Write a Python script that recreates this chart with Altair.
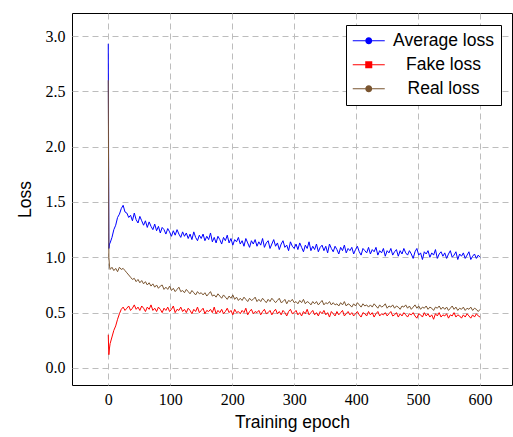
import altair as alt
import pandas as pd

series_names = ["Average loss", "Fake loss", "Real loss"]
series_colors = ["#0000ff", "#ff0000", "#7a5530"]

epochs = [0, 1, 2] + list(range(3, 601, 3))

avg_loss = [2.93, 1.08, 1.12,
    1.13, 1.18, 1.25, 1.29, 1.36, 1.39, 1.44, 1.47, 1.41, 1.40,
    1.36, 1.38, 1.33, 1.40, 1.34, 1.31, 1.37, 1.33, 1.29, 1.33,
    1.27, 1.32, 1.28, 1.25, 1.30, 1.24, 1.28, 1.22, 1.27, 1.25,
    1.21, 1.26, 1.23, 1.19, 1.24, 1.20, 1.25, 1.21, 1.18, 1.23,
    1.19, 1.22, 1.17, 1.21, 1.16, 1.23, 1.18, 1.15, 1.20, 1.17,
    1.21, 1.15, 1.19, 1.16, 1.22, 1.14, 1.18, 1.13, 1.19, 1.16,
    1.12, 1.18, 1.15, 1.20, 1.13, 1.17, 1.11, 1.16, 1.14, 1.18,
    1.12, 1.15, 1.10, 1.17, 1.13, 1.09, 1.15, 1.12, 1.16, 1.10,
    1.14, 1.11, 1.17, 1.09, 1.13, 1.15, 1.08, 1.12, 1.16, 1.10,
    1.13, 1.07, 1.12, 1.15, 1.09, 1.11, 1.06, 1.14, 1.10, 1.08,
    1.12, 1.07, 1.13, 1.09, 1.05, 1.11, 1.08, 1.14, 1.06, 1.10,
    1.07, 1.12, 1.05, 1.09, 1.11, 1.06, 1.10, 1.04, 1.12, 1.08,
    1.05, 1.10, 1.07, 1.03, 1.09, 1.06, 1.11, 1.04, 1.08, 1.06,
    1.09, 1.03, 1.07, 1.10, 1.05, 1.02, 1.08, 1.06, 1.04, 1.09,
    1.03, 1.07, 1.05, 1.09, 1.02, 1.06, 1.04, 1.08, 1.01, 1.06,
    1.04, 1.08, 1.02, 1.05, 1.07, 1.01, 1.06, 1.03, 1.08, 1.04,
    1.02, 1.06, 1.03, 0.99, 1.05, 1.08, 1.02, 1.04, 0.98, 1.05,
    1.03, 1.06, 1.00, 1.04, 1.02, 1.07, 0.99, 1.03, 1.05, 1.01,
    1.04, 0.99, 1.03, 1.06, 1.00, 1.02, 1.05, 0.98, 1.03, 1.01,
    1.04, 0.99, 1.02, 1.05, 0.98, 1.01, 1.03, 0.99, 1.02, 1.00]

fake_loss = [0.30, 0.12, 0.18,
    0.22, 0.28, 0.34, 0.38, 0.44, 0.49, 0.53, 0.55, 0.52, 0.54,
    0.56, 0.52, 0.54, 0.57, 0.53, 0.55, 0.52, 0.56, 0.54, 0.51,
    0.55, 0.53, 0.57, 0.52, 0.54, 0.51, 0.55, 0.53, 0.50, 0.54,
    0.52, 0.55, 0.51, 0.53, 0.56, 0.50, 0.53, 0.52, 0.55, 0.51,
    0.53, 0.50, 0.54, 0.52, 0.49, 0.53, 0.51, 0.55, 0.50, 0.52,
    0.54, 0.49, 0.52, 0.51, 0.53, 0.50, 0.55, 0.49, 0.52, 0.50,
    0.53, 0.49, 0.51, 0.54, 0.50, 0.52, 0.48, 0.53, 0.50, 0.51,
    0.49, 0.52, 0.50, 0.54, 0.48, 0.51, 0.53, 0.49, 0.51, 0.50,
    0.52, 0.48, 0.51, 0.53, 0.49, 0.50, 0.52, 0.48, 0.51, 0.53,
    0.49, 0.51, 0.48, 0.52, 0.50, 0.47, 0.51, 0.53, 0.49, 0.50,
    0.52, 0.48, 0.50, 0.47, 0.51, 0.49, 0.53, 0.48, 0.50, 0.52,
    0.48, 0.50, 0.47, 0.51, 0.49, 0.52, 0.48, 0.50, 0.46, 0.51,
    0.49, 0.47, 0.51, 0.48, 0.50, 0.52, 0.47, 0.49, 0.51, 0.48,
    0.50, 0.47, 0.49, 0.51, 0.48, 0.46, 0.50, 0.49, 0.47, 0.51,
    0.48, 0.50, 0.46, 0.49, 0.51, 0.47, 0.49, 0.48, 0.50, 0.47,
    0.49, 0.51, 0.47, 0.48, 0.50, 0.46, 0.49, 0.47, 0.50, 0.48,
    0.46, 0.49, 0.48, 0.50, 0.47, 0.45, 0.49, 0.48, 0.46, 0.50,
    0.47, 0.49, 0.46, 0.48, 0.44, 0.49, 0.47, 0.50, 0.46, 0.48,
    0.47, 0.49, 0.45, 0.48, 0.47, 0.50, 0.46, 0.48, 0.47, 0.45,
    0.48, 0.46, 0.49, 0.47, 0.45, 0.48, 0.46, 0.49, 0.47, 0.46]

real_loss = [2.60, 1.00, 0.92,
    0.89, 0.91, 0.88, 0.90, 0.87, 0.91, 0.89, 0.90, 0.88, 0.86,
    0.84, 0.82, 0.80, 0.81, 0.78, 0.80, 0.77, 0.79, 0.76, 0.78,
    0.75, 0.77, 0.74, 0.76, 0.73, 0.75, 0.72, 0.74, 0.75, 0.71,
    0.73, 0.71, 0.74, 0.70, 0.72, 0.69, 0.71, 0.73, 0.69, 0.70,
    0.68, 0.71, 0.69, 0.67, 0.70, 0.68, 0.66, 0.69, 0.67, 0.68,
    0.66, 0.68, 0.65, 0.67, 0.69, 0.65, 0.66, 0.64, 0.67, 0.65,
    0.63, 0.66, 0.64, 0.62, 0.65, 0.63, 0.66, 0.62, 0.64, 0.61,
    0.63, 0.61, 0.64, 0.62, 0.60, 0.63, 0.61, 0.62, 0.64, 0.60,
    0.62, 0.60, 0.63, 0.61, 0.59, 0.62, 0.60, 0.63, 0.61, 0.59,
    0.61, 0.63, 0.59, 0.60, 0.62, 0.58, 0.61, 0.60, 0.62, 0.59,
    0.60, 0.58, 0.61, 0.59, 0.62, 0.58, 0.60, 0.59, 0.57, 0.60,
    0.58, 0.60, 0.57, 0.59, 0.61, 0.57, 0.59, 0.58, 0.60, 0.57,
    0.59, 0.57, 0.58, 0.56, 0.59, 0.57, 0.60, 0.56, 0.58, 0.57,
    0.55, 0.58, 0.56, 0.59, 0.57, 0.55, 0.58, 0.56, 0.57, 0.55,
    0.57, 0.55, 0.58, 0.56, 0.54, 0.57, 0.55, 0.56, 0.58, 0.54,
    0.56, 0.55, 0.57, 0.54, 0.56, 0.55, 0.53, 0.56, 0.55, 0.57,
    0.54, 0.56, 0.53, 0.55, 0.57, 0.54, 0.56, 0.53, 0.55, 0.54,
    0.56, 0.53, 0.55, 0.54, 0.52, 0.55, 0.54, 0.56, 0.53, 0.55,
    0.53, 0.55, 0.52, 0.54, 0.56, 0.53, 0.55, 0.52, 0.54, 0.53,
    0.55, 0.52, 0.54, 0.53, 0.55, 0.52, 0.54, 0.53, 0.51, 0.53]

x_ticks = [0, 100, 200, 300, 400, 500, 600]
y_ticks = [0.0, 0.5, 1.0, 1.5, 2.0, 2.5, 3.0]

rows = []
for name, vals in zip(series_names, [avg_loss, fake_loss, real_loss]):
    for e, v in zip(epochs, vals):
        rows.append({"epoch": e, "loss": v, "series": name})
df = pd.DataFrame(rows)

# legend symbols: line segment with marker (circle / square / circle)
circ_path = ("M-2,-0.06 L-0.43,-0.06 L-0.43,0.06 L-2,0.06 Z "
             "M0.43,-0.06 L2,-0.06 L2,0.06 L0.43,0.06 Z "
             "M0.44,0 A0.44,0.44 0 1,0 -0.44,0 A0.44,0.44 0 1,0 0.44,0 Z")
sq_path = ("M-2,-0.06 L-0.43,-0.06 L-0.43,0.06 L-2,0.06 Z "
           "M0.43,-0.06 L2,-0.06 L2,0.06 L0.43,0.06 Z "
           "M-0.44,-0.44 L0.44,-0.44 L0.44,0.44 L-0.44,0.44 Z")

x_enc = alt.X("epoch:Q", scale=alt.Scale(domain=[-58.5, 651.5], nice=False, zero=False),
              axis=alt.Axis(values=x_ticks, title="Training epoch"))
y_enc = alt.Y("loss:Q", scale=alt.Scale(domain=[-0.154, 3.208], nice=False, zero=False),
              axis=alt.Axis(values=y_ticks, format=".1f", title="Loss"))

layers = []
for name, col in zip(series_names, series_colors):
    layers.append(
        alt.Chart(df).transform_filter(alt.datum.series == name)
        .mark_line(strokeWidth=1.0, clip=True, color=col)
        .encode(x=x_enc, y=y_enc, order="epoch:Q")
    )

legend_layer = (
    alt.Chart(df).transform_filter(alt.datum.epoch < -1000)
    .mark_point(filled=True, opacity=1)
    .encode(
        x=x_enc, y=y_enc,
        color=alt.Color("series:N", scale=alt.Scale(domain=series_names, range=series_colors),
                        legend=alt.Legend(
                            title=None, orient="none", legendX=274, legendY=12,
                            labelAlign="center", labelOffset=66, symbolOffset=7,
                            symbolSize=256, symbolStrokeWidth=0, rowPadding=5,
                            padding=7, strokeColor="black", fillColor="white",
                            labelFont="Liberation Sans", labelFontSize=17.5,
                            labelColor="black", labelLimit=0, symbolOpacity=1)),
        shape=alt.Shape("series:N", scale=alt.Scale(domain=series_names,
                                                    range=[circ_path, sq_path, circ_path])),
    )
)

chart = (
    alt.layer(*layers, legend_layer)
    .properties(width=440, height=372, autosize="none",
                padding={"left": 72, "top": 13, "right": 1, "bottom": 52})
    .configure_view(stroke="black", strokeWidth=1)
    .configure_axis(
        grid=True, gridColor="#bdbdbd", gridDash=[6, 4], gridWidth=1,
        domain=False, ticks=False,
        labelFont="Liberation Serif", labelFontSize=16, labelColor="black",
        titleFont="Liberation Sans", titleFontSize=17.5, titleColor="black",
        titleFontWeight="normal",
    )
    .configure_axisX(labelPadding=6, titlePadding=6)
    .configure_axisY(labelPadding=7, titlePadding=11)
)

chart.save("out.html", embed_options={"renderer": "svg", "actions": False})
